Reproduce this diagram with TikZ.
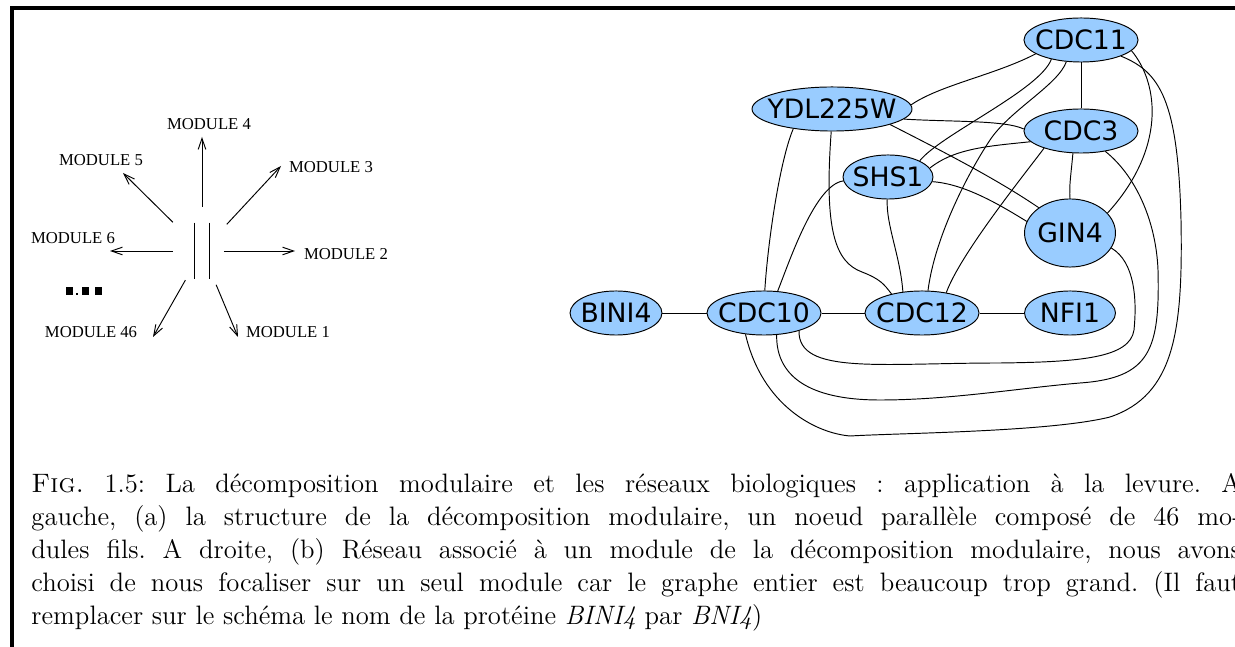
\documentclass[tikz,border=0pt]{standalone}
\usepackage{fontspec}
\newfontfamily\protfont{DejaVu Sans}
\newfontfamily\modfont{Liberation Serif}
\usetikzlibrary{shapes.geometric,arrows.meta}

\definecolor{protblue}{HTML}{99CCFF}
% protein names take no room, the ellipse size comes from the style
\newcommand\pname[1]{\makebox[0pt]{#1}}

\begin{document}
\begin{tikzpicture}[
    x=0.42pt, y=-0.42pt,
    prot/.style    ={ellipse,draw,thin,fill=protblue,inner sep=0pt,
                     minimum width=#1,minimum height=18.5pt,
                     font=\protfont\fontsize{11.2pt}{13pt}\selectfont},
    prot/.default  =47.9pt,
    link/.style    ={thin},
    modlabel/.style={inner sep=0pt,font=\modfont\fontsize{7pt}{8pt}\selectfont},
    modarrow/.style={thin,-{Straight Barb[length=4.6pt,width=3.2pt]}},
    caption/.style ={inner sep=0pt,text width=508pt,align=justify,
                     font=\fontsize{11.2pt}{13.86pt}\selectfont\frenchspacing}
]
\useasboundingbox (0,0) rectangle (1235,647);

% frame
\draw[line width=1.4pt] (1245,8) -- (12,8) -- (12,655);

% (a) parallel node and its 46 sons
\node[minimum width=5.9pt,minimum height=23.5pt,inner sep=0pt] (par) at (202,251) {};
\draw (par.north west) -- (par.south west) (par.north east) -- (par.south east);

\coordinate (t4)  at (202,137);
\coordinate (t5)  at (123,173);
\coordinate (t3)  at (281,166);
\coordinate (t6)  at (110,251);
\coordinate (t2)  at (295,251);
\coordinate (t46) at (153,337);
\coordinate (t1)  at (238,337);

\node[modlabel] (m4)  at (209,124) {MODULE 4};
\node[modlabel] (m5)  at (101,160) {MODULE 5};
\node[modlabel] (m3)  at (331,167) {MODULE 3};
\node[modlabel] (m6)  at (73,238)  {MODULE 6};
\node[modlabel] (m2)  at (346,254) {MODULE 2};
\node[modlabel] (m46) at (91,332)  {MODULE 46};
\node[modlabel] (m1)  at (288,332) {MODULE 1};

\foreach \t/\gap in {t4/18.5pt,t5/17.2pt,t3/15.3pt,t6/12.2pt,t2/9.2pt,t46/14.1pt,t1/15.4pt}
    \draw[modarrow,shorten <=\gap] (par.center) -- (\t);

% dots for the other modules
\foreach \x in {69,85,98.5}
    \fill (\x-3.5,287.5) rectangle (\x+3.5,295);
\fill (76,293) rectangle (78,295);

% (b) network of one module
\node[prot]                        (cdc11) at (1081,40)  {\pname{CDC11}};
\node[prot=67.2pt]                 (ydl)   at (832,109)  {\pname{YDL225W}};
\node[prot]                        (cdc3)  at (1081,131) {\pname{CDC3}};
\node[prot=37.8pt]                 (shs)   at (888,177)  {\pname{SHS1}};
\node[prot=38.2pt,minimum height=28.6pt] (gin) at (1070,233) {\pname{GIN4}};
\node[prot=38.6pt]                 (bini)  at (616,313)  {\pname{BINI4}};
\node[prot]                        (cdc10) at (764,313)  {\pname{CDC10}};
\node[prot]                        (cdc12) at (922,313)  {\pname{CDC12}};
\node[prot=38.2pt]                 (nfi)   at (1070,313) {\pname{NFI1}};

\draw[link] (bini) -- (cdc10);
\draw[link] (cdc10) -- (cdc12);
\draw[link] (cdc12) -- (nfi);
\draw[link] (cdc11) -- (cdc3);
\draw[link] (ydl.3) .. controls (940,85) and (995,75) .. (cdc11.197);
\draw[link] (ydl.-8) .. controls (950,122) and (1005,120) .. (cdc3.178);
\draw[link] (ydl.-15) .. controls (940,150) and (995,178) .. (gin.141);
\draw[link] (ydl.207) .. controls (780,160) and (768,240) .. (cdc10.88);
\draw[link] (ydl.-92) .. controls (824,230) and (835,262) .. (862,272)
                      .. controls (880,279) and (884,284) .. (cdc12.148);
\draw[link] (shs.185) .. controls (815,185) and (790,260) .. (cdc10.58);
\draw[link] (shs.-92) .. controls (886,225) and (900,255) .. (cdc12.132);
\draw[link] (shs.27) .. controls (940,135) and (1040,90) .. (cdc11.213);
\draw[link] (shs.12) .. controls (955,148) and (990,146) .. (cdc3.192);
\draw[link] (shs.-6) .. controls (965,184) and (1000,205) .. (gin.165);
\draw[link] (cdc11.236) .. controls (1058,85) and (1010,110) .. (990,140)
                        .. controls (970,170) and (935,235) .. (cdc12.75);
\draw[link] (cdc3.250) .. controls (1071,175) and (1069,185) .. (gin.north);
\draw[link] (cdc3.205) .. controls (1020,180) and (960,255) .. (cdc12.40);
\draw[link] (cdc11.-12) .. controls (1160,85) and (1165,150) .. (gin.28);
% the three long ones running under the row
\draw[link] (cdc11.-22) .. controls (1160,72) and (1178,100) .. (1181,220)
                        .. controls (1183,330) and (1175,395) .. (1110,417)
                        .. controls (1050,432) and (900,433) .. (850,436)
                        .. controls (815,433) and (762,405) .. (cdc10.229);
\draw[link] (cdc3.-40) .. controls (1135,175) and (1156,220) .. (1158,270)
                       .. controls (1160,350) and (1150,378) .. (1080,383)
                       .. controls (1020,388) and (950,400) .. (880,400)
                       .. controls (800,400) and (776,370) .. (cdc10.-60);
\draw[link] (gin.-20) .. controls (1135,262) and (1137,300) .. (1134,330)
                      .. controls (1130,358) and (1080,362) .. (1000,363)
                      .. controls (880,363) and (798,375) .. (cdc10.-27);

% caption
\node[caption,anchor=north west] (cap) at (31,473) {\textsc{Fig.} 1.5: La d\'ecomposition modulaire et les r\'eseaux biologiques : application \`a la levure. A\linebreak
gauche, (a) la structure de la d\'ecomposition modulaire, un noeud parall\`ele compos\'e de 46 mo-\linebreak
dules fils. A droite, (b) R\'eseau associ\'e \`a un module de la d\'ecomposition modulaire, nous avons\linebreak
choisi de nous focaliser sur un seul module car le graphe entier est beaucoup trop grand. (Il faut\linebreak
remplacer sur le sch\'ema le nom de la prot\'eine \textit{BINI4} par \textit{BNI4})};

\end{tikzpicture}
\end{document}
